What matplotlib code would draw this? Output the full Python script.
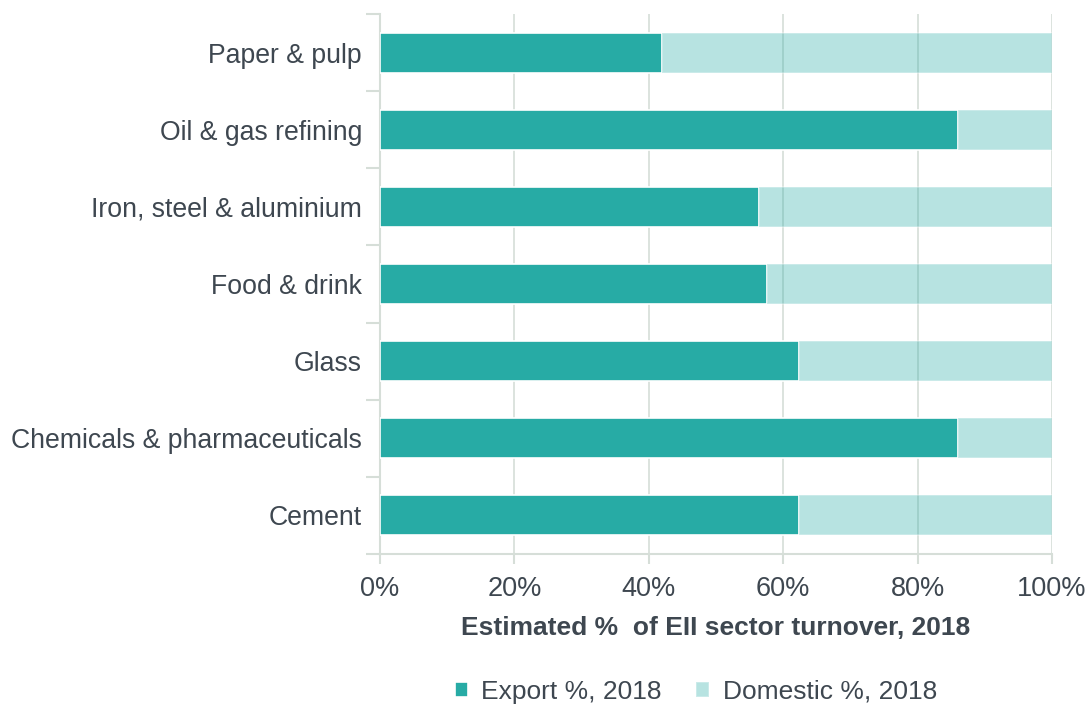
import matplotlib.pyplot as plt
from matplotlib.ticker import FuncFormatter, FixedLocator

plt.rcParams['font.family'] = ['Liberation Sans', 'DejaVu Sans']

sectors = ['Cement', 'Chemicals & pharmaceuticals', 'Glass', 'Food & drink',
           'Iron, steel & aluminium', 'Oil & gas refining', 'Paper & pulp']
export_pct = [62.3, 86.0, 62.3, 57.6, 56.4, 86.0, 42.0]
domestic_pct = [100 - v for v in export_pct]

teal = '#27aba5'
text_col = '#3e4750'
axis_col = '#d6ded8'

fig = plt.figure(figsize=(10.9, 7.06), dpi=100)
ax = fig.add_axes([380 / 1090, 1 - 554 / 706, 672 / 1090, 540 / 706])

pos = list(range(len(sectors)))
ax.barh(pos, export_pct, height=0.52, color=teal, edgecolor='white',
        linewidth=1.2, label='Export %, 2018', zorder=3)
ax.barh(pos, domestic_pct, left=export_pct, height=0.52, color=teal,
        alpha=0.33, edgecolor='white', linewidth=1.2,
        label='Domestic %, 2018', zorder=3)

ax.set_xlim(0, 100)
ax.set_ylim(-0.5, len(sectors) - 0.5)
ax.set_xticks([0, 20, 40, 60, 80, 100])
ax.xaxis.set_major_formatter(FuncFormatter(lambda v, p: f'{v:.0f}%'))
ax.grid(axis='x', color=axis_col, linewidth=1.2, zorder=0)

# category labels on minor ticks, tick marks between categories
ax.set_yticks([p - 0.5 for p in pos] + [len(sectors) - 0.5])
ax.set_yticklabels([])
ax.yaxis.set_minor_locator(FixedLocator(pos))
ax.set_yticklabels(sectors, minor=True)
ax.tick_params(axis='y', which='major', length=10, width=1.5, color=axis_col)
ax.tick_params(axis='y', which='minor', length=0, pad=13, labelsize=19.2,
               labelcolor=text_col)
ax.tick_params(axis='x', length=7, width=1.5, color=axis_col, pad=9,
               labelsize=19.5, labelcolor=text_col)

for s in ['top', 'right']:
    ax.spines[s].set_visible(False)
for s in ['left', 'bottom']:
    ax.spines[s].set_color(axis_col)
    ax.spines[s].set_linewidth(1.5)

ax.set_xlabel('Estimated %  of EII sector turnover, 2018', fontsize=19,
              fontweight='bold', color=text_col, labelpad=10)

leg = fig.legend(loc='center', bbox_to_anchor=(696 / 1090, 1 - 692 / 706),
                 ncol=2, frameon=False, fontsize=19, handlelength=0.5,
                 handleheight=0.5, handletextpad=0.5, columnspacing=1.3,
                 labelcolor=text_col)

fig.savefig('out.png', dpi=100)
